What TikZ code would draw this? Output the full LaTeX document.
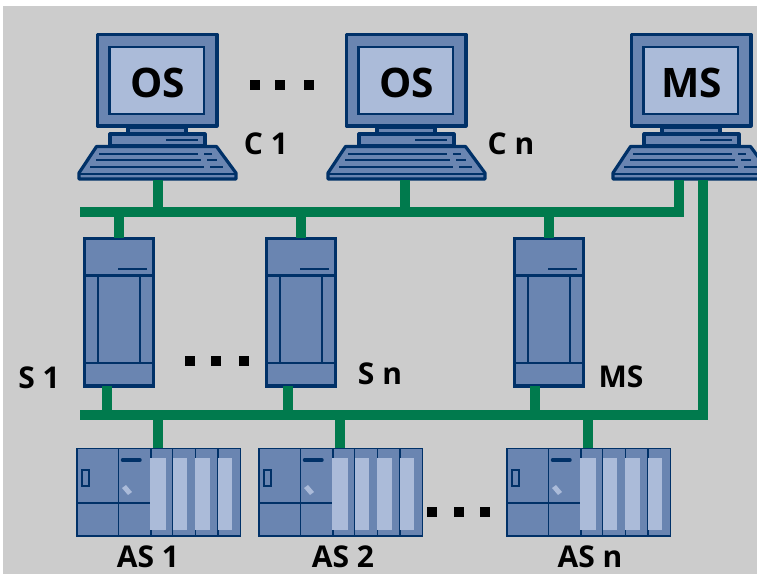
\documentclass[tikz,border=0pt]{standalone}
\usepackage{fontspec}
\setmainfont{Open Sans}
\definecolor{bg}{HTML}{CCCCCC}
\definecolor{midb}{HTML}{6A85B1}
\definecolor{darkb}{HTML}{003168}
\definecolor{lightb}{HTML}{ABBBD9}
\definecolor{busg}{HTML}{007A4D}
\tikzset{
  x=0.75pt,y=-0.75pt,
  bus/.style={draw=busg,line width=7.5pt,line join=miter},
  shell/.style={draw=darkb,fill=midb,line width=2.4pt,line join=round},
  thin part/.style={draw=darkb,line width=1.6pt},
  rackline/.style={draw=darkb,line width=1.25pt},
  hair/.style={draw=darkb,line width=1.1pt},
  big/.style={font=\fontsize{30.5}{30.5}\selectfont\bfseries,text=black,inner sep=0pt},
  lab/.style={font=\fontsize{22.5}{22.5}\selectfont\bfseries,text=black,inner sep=0pt},
  dotsq/.style={fill=black,draw=none},
  pics/computer/.style={code={
    \draw[shell] (128,127) rectangle (186,134);
    \draw[shell] (110,134) rectangle (205,146);
    \draw[shell] (97.5,34.5) rectangle (217,126);
    \draw[thin part,fill=lightb] (109.5,47) rectangle (204,114);
    \node[big] (-label) at (158,83) {#1};
    \draw[shell] (96.5,146.5) -- (216.5,146.5) -- (236,173) -- (236,179) -- (79,179) -- (79,173) -- cycle;
    \draw[hair] (79,174) -- (236,174);
    \draw[hair] (166,140) -- (198,140);
    \draw[hair] (99,154) -- (198,154) (204,154) -- (212,154);
    \draw[hair] (96,160) -- (201,160) (207,160) -- (217,160);
    \draw[hair] (90,167) -- (204,167) (210,167) -- (223,167);
    \coordinate (-bot) at (158,180);
  }},
  pics/server/.style={code={
    \draw[shell,line join=miter] (84.5,238.5) rectangle (153.5,386);
    \draw[thin part] (84.5,275.5) -- (153.5,275.5) (84.5,363) -- (153.5,363);
    \draw[thin part] (98,275.5) -- (98,363) (140,275.5) -- (140,363);
    \draw[hair] (118,269) -- (147,269);
    \coordinate (-top) at (119,238);
  }},
  pics/rack/.style={code={
    \draw[rackline,fill=midb] (77,448.5) rectangle (240.5,536);
    \draw[rackline] (118.5,448.5) -- (118.5,536) (151,448.5) -- (151,536)
      (172.5,448.5) -- (172.5,536) (195.5,448.5) -- (195.5,536) (218,448.5) -- (218,536);
    \draw[rackline] (77,503) -- (151,503);
    \fill[lightb] (150,458) rectangle (165.5,529.5);
    \fill[lightb] (173,458) rectangle (187,529.5);
    \fill[lightb] (195,458) rectangle (210,529.5);
    \fill[lightb] (218,458) rectangle (232,529.5);
    \draw[rackline] (82,470) rectangle (89,486);
    \draw[darkb,line width=2.6pt,line cap=round] (122.5,460) -- (140,460);
    \fill[lightb] (122,488) -- (126,485) -- (132,492) -- (128,495) -- cycle;
    \coordinate (-top) at (158,448);
  }}
}
\begin{document}
\begin{tikzpicture}
\useasboundingbox (0,0) rectangle (757,574);
\fill[white] (0,0) rectangle (757,574);
\fill[bg] (3,6) rectangle (757,574);

\pic (c1) at (0,0) {computer={OS}};
\pic (cn) at (249,0) {computer={OS}};
\pic (cm) at (534,0) {computer={MS}};
\pic (s1) at (0,0) {server};
\pic (sn) at (182,0) {server};
\pic (sm) at (430,0) {server};
\pic (a1) at (0,0) {rack};
\pic (a2) at (182,0) {rack};
\pic (an) at (430,0) {rack};

\coordinate (topstart) at (80,212.5);
\coordinate (botstart) at (80,414.5);
\coordinate (mslan) at (679,180);
\coordinate (msplant) at (703,180);
\coordinate (cnlink) at (405,180);
\coordinate (s1low) at (107,386);
\coordinate (snlow) at (288,386);
\coordinate (smlow) at (535,386);

\draw[bus] (topstart) -- (topstart -| mslan) -- (mslan);
\draw[bus] (botstart) -- (botstart -| msplant) -- (msplant);
\draw[bus] (c1-bot) -- (c1-bot |- topstart);
\draw[bus] (cnlink) -- (cnlink |- topstart);
\foreach \n in {s1,sn,sm} {
  \draw[bus] (\n-top) -- (\n-top |- topstart);
  \draw[bus] (\n low) -- (\n low |- botstart);
}
\foreach \n in {a1,a2,an}
  \draw[bus] (\n-top) -- (\n-top |- botstart);

\foreach \x in {250,275,304} \fill[dotsq] (\x,80) rectangle +(10,10);
\foreach \x in {185,211,239} \fill[dotsq] (\x,356) rectangle +(10,10);
\foreach \x in {427,454,480} \fill[dotsq] (\x,507) rectangle +(10,10);

\node[lab] (lc1) at (266,144) {C 1};
\node[lab] (lcn) at (511,144) {C n};
\node[lab] (ls1) at (39,378) {S 1};
\node[lab] (lsn) at (380,374) {S n};
\node[lab] (lsm) at (621,377) {MS};
\node[lab] (la1) at (148,556.5) {AS 1};
\node[lab] (la2) at (343,556.5) {AS 2};
\node[lab] (lan) at (590,556.5) {AS n};
\end{tikzpicture}
\end{document}
